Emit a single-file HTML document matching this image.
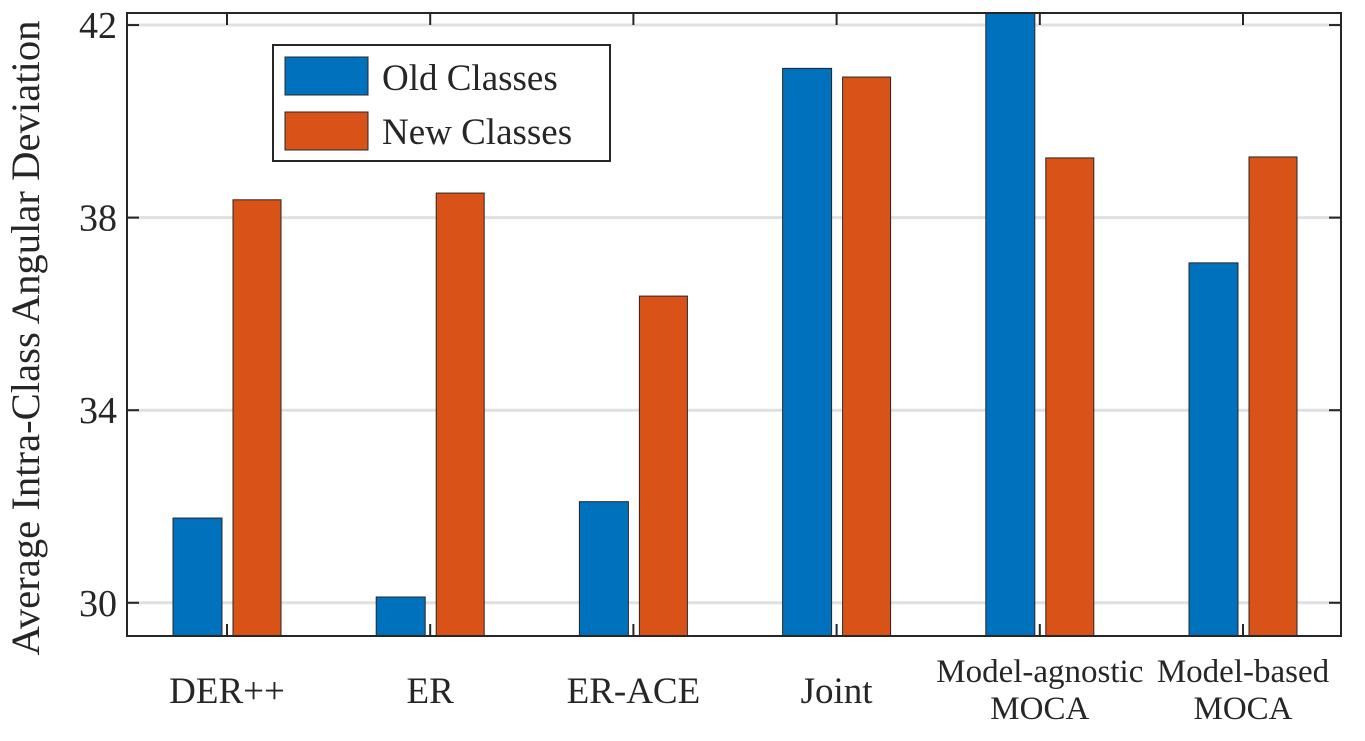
<!DOCTYPE html>
<html><head><meta charset="utf-8"><style>
body{margin:0;background:#fff;}
svg text{font-family:"Liberation Serif",serif;fill:#262626;}
</style></head><body>
<svg width="1365" height="736">
<g id="grid"></g>
<g id="bars"></g>
<g id="axes"></g>
<text transform="translate(39,338) rotate(-90)" text-anchor="middle" font-size="40" textLength="635" lengthAdjust="spacingAndGlyphs">Average Intra-Class Angular Deviation</text>
<g>
<rect x="273" y="45" width="337" height="116" fill="#fff" stroke="#262626" stroke-width="2"/>
<rect x="285" y="57" width="83" height="38" fill="#0072BD" stroke="#262626" stroke-width="1"/>
<text x="382" y="90" font-size="37">Old Classes</text>
<rect x="285" y="112" width="83" height="38" fill="#D95319" stroke="#262626" stroke-width="1"/>
<text x="382" y="144" font-size="37">New Classes</text>
</g>
</svg>
<script>
const categories=[["DER++"],["ER"],["ER-ACE"],["Joint"],["Model-agnostic","MOCA"],["Model-based","MOCA"]];
const oldVals=[31.76,30.12,32.1,41.1,42.3,37.06];
const newVals=[38.37,38.51,36.37,40.92,39.24,39.26];
const yTicks=[30,34,38,42];
const NS="http://www.w3.org/2000/svg";
const L=127,R=1341,T=13,B=636,ymin=29.31,ymax=42.25;
const y=v=>T+(ymax-v)/(ymax-ymin)*(B-T);
const xc=i=>227+i*203.2;
function mk(tag,a,p){const e=document.createElementNS(NS,tag);for(const k in a)e.setAttribute(k,a[k]);p.appendChild(e);return e;}
const grid=document.getElementById('grid'),bars=document.getElementById('bars'),axes=document.getElementById('axes');
yTicks.forEach(t=>{
 const g=mk('line',{x1:L,x2:R,y1:y(t),y2:y(t),stroke:'#e0e0e0','stroke-width':3},grid);
 
 
 mk('line',{x1:L,x2:L+12,y1:y(t),y2:y(t),stroke:'#262626','stroke-width':2},axes);
 mk('line',{x1:R-12,x2:R,y1:y(t),y2:y(t),stroke:'#262626','stroke-width':2},axes);
 const tx=mk('text',{x:L-10,y:y(t)+13,'text-anchor':'end','font-size':38},axes);
 tx.textContent=t;
 
 
});
const clip=mk('clipPath',{id:'pc'},bars);mk('rect',{x:L,y:T,width:R-L,height:B-T},clip);
categories.forEach((c,i)=>{
 const bo=mk('rect',{x:xc(i)-54,y:y(oldVals[i]),width:49,height:B-y(oldVals[i]),fill:'#0072BD',stroke:'#262626','stroke-width':1,'clip-path':'url(#pc)'},bars);
 
 
 const bn=mk('rect',{x:xc(i)+6,y:y(newVals[i]),width:48,height:B-y(newVals[i]),fill:'#D95319',stroke:'#262626','stroke-width':1,'clip-path':'url(#pc)'},bars);
 
 
 mk('line',{x1:xc(i),x2:xc(i),y1:B,y2:B-12,stroke:'#262626','stroke-width':2},axes);
 mk('line',{x1:xc(i),x2:xc(i),y1:T,y2:T+12,stroke:'#262626','stroke-width':2},axes);
 c.forEach((s,j)=>{
  const tx=mk('text',{x:xc(i),y:(c.length>1?682:703)+j*37,'text-anchor':'middle','font-size':c.length>1?33:37},axes);
  tx.textContent=s;
  
  
 });
});
const f=mk('rect',{x:L,y:T,width:R-L,height:B-T,fill:'none',stroke:'#262626','stroke-width':2},axes);


</script>
</body></html>
